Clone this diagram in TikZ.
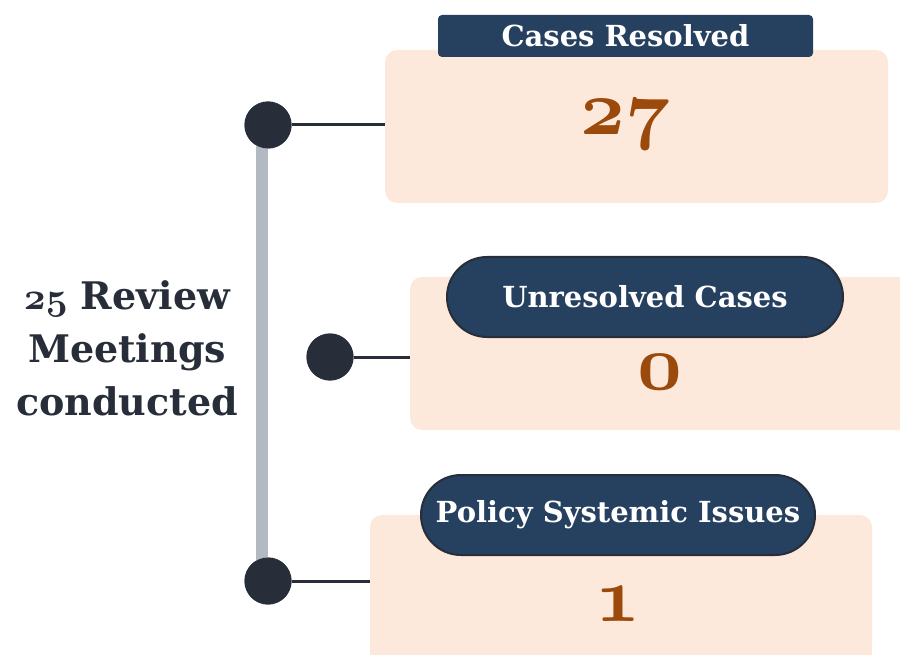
\documentclass[tikz,border=0pt]{standalone}
\usepackage{fontspec}
\setmainfont{DejaVu Serif}
\usepackage{tikz}
\usetikzlibrary{shapes.misc}
\usetikzlibrary{positioning}
\definecolor{peach}{HTML}{FDE9DB}
\definecolor{navy}{HTML}{26405F}
\definecolor{ink}{HTML}{272E39}
\definecolor{rust}{HTML}{9B4A0B}
\definecolor{bargray}{HTML}{B2B9C0}
%% old style digits, any size
\DeclareFontFamily{OML}{osdig}{\skewchar\font'177}
\DeclareFontShape{OML}{osdig}{b}{it}{<-> cmmib10}{}
\newcommand{\oldnum}[1]{{\usefont{OML}{osdig}{b}{it}#1}}
\tikzset{
  dot/.style={circle,fill=ink,minimum size=47pt,inner sep=0pt},
  link/.style={ink,line width=3pt},
  bar/.style={bargray,line width=12pt},
  panel/.style={fill=peach,rounded corners=12pt,inner sep=0pt},
  tab/.style={fill=navy,rounded corners=4pt,inner sep=0pt,text=white,
    font=\bfseries\fontsize{29}{34}\selectfont},
  pill/.style={rounded rectangle,fill=navy,draw=ink,line width=2pt,inner sep=0pt,
    text=white,font=\bfseries\fontsize{29}{34}\selectfont},
  num/.style={text=rust,font=\fontsize{78}{78}\selectfont}
}
\begin{document}
\begin{tikzpicture}[x=1pt,y=-1pt]
\useasboundingbox (0,0) rectangle (900,655);
%% boxes
\node[panel,minimum width=503pt,minimum height=153pt] (box1) at (636.5,126.5) {};
\node[panel,minimum width=510pt,minimum height=153pt] (box2) at (665,353.5) {};
\node[panel,minimum width=502pt,minimum height=160pt] (box3) at (621,595) {};
%% headers
\node[tab,minimum width=375pt,minimum height=42pt] (head1) at (625.5,36) {Cases Resolved};
\node[pill,minimum width=396pt,minimum height=80pt] (head2) at (645,297) {Unresolved Cases};
\node[pill,minimum width=394pt,minimum height=80pt] (head3) at (618,515) {Policy Systemic Issues};
%% values
\node[num] (val1) at (625,125) {\oldnum{27}};
\node[num] (val2) at (660,372) {\oldnum{0}};
\node[num] (val3) at (618,604) {\oldnum{1}};
%% timeline
\node[dot] (dot1) at (268,125) {};
\node[dot] (dot2) at (330,357) {};
\node[dot] (dot3) at (268,581) {};
\draw[link] (dot1) -- (dot1 -| box1.west);
\draw[link] (dot2) -- (dot2 -| box2.west);
\draw[link] (dot3) -- (dot3 -| box3.west);
\draw[bar] ([xshift=-6.5pt]dot1.center) -- ([xshift=-6.5pt]dot3.center);
\node[dot] at (dot1) {};
\node[dot] at (dot2) {};
\node[dot] at (dot3) {};
%% title
\node[align=center,text=ink,font=\bfseries\fontsize{38}{53}\selectfont] (title) at (127,348)
  {\oldnum{25} Review\\Meetings\\conducted};
\end{tikzpicture}
\end{document}
